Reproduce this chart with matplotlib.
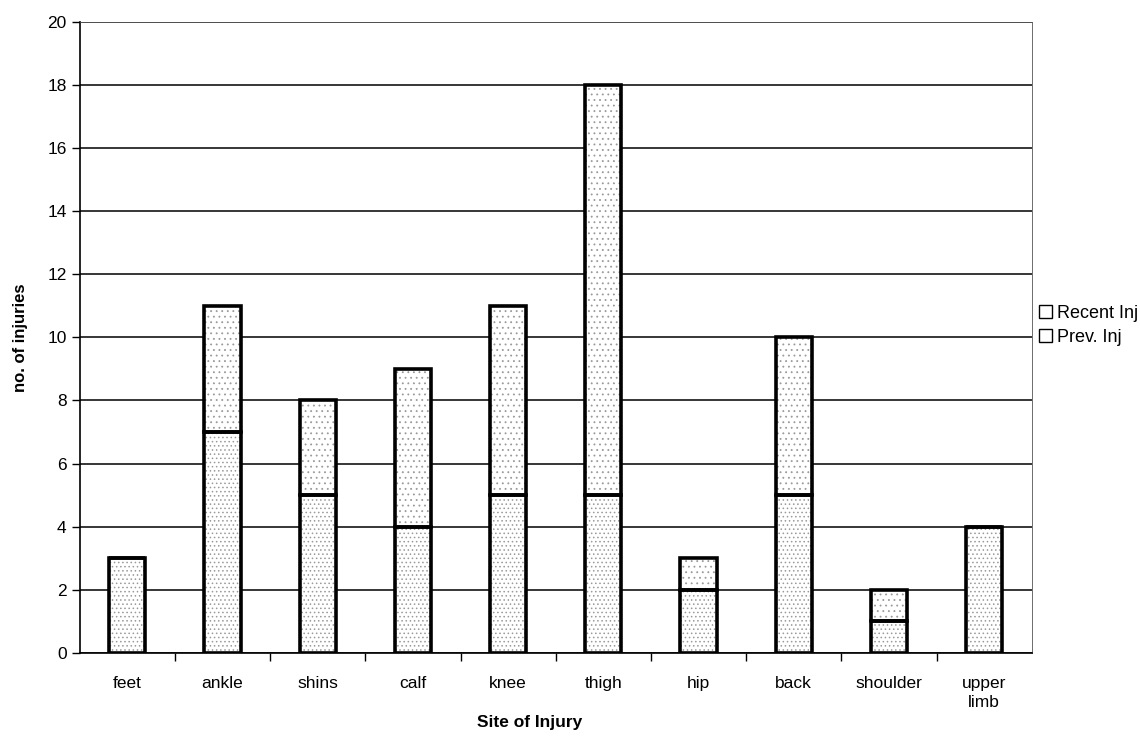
import matplotlib
matplotlib.use('Agg')
import matplotlib.pyplot as plt
from matplotlib.patches import Patch

plt.rcParams['font.family'] = ['Liberation Sans', 'DejaVu Sans']
plt.rcParams['hatch.linewidth'] = 0.6

sites = ['feet', 'ankle', 'shins', 'calf', 'knee', 'thigh', 'hip', 'back',
         'shoulder', 'upper\nlimb']
prev_inj = [3, 7, 5, 4, 5, 5, 2, 5, 1, 4]
recent_inj = [0, 4, 3, 5, 6, 13, 1, 5, 1, 0]

bar_width = 0.38
stipple = '#9a9a9a'

fig = plt.figure(figsize=(11.4, 7.53), dpi=100)
ax = fig.add_axes([0.070, 0.133, 0.835, 0.838])

x = range(len(sites))
# stippled fill first, then a plain outline on top so the edges stay black
ax.bar(x, prev_inj, width=bar_width, color='white', edgecolor=stipple,
       hatch='....', linewidth=0, zorder=3)
ax.bar(x, recent_inj, bottom=prev_inj, width=bar_width, color='white',
       edgecolor=stipple, hatch='...', linewidth=0, zorder=3)
for vals, base in [(prev_inj, None), (recent_inj, prev_inj)]:
    ax.bar(x, vals, bottom=base, width=bar_width, fill=False,
           edgecolor='black', linewidth=2.6, zorder=4)

ax.set_xlim(-0.5, len(sites) - 0.5)
ax.set_ylim(0, 20)
ax.set_yticks(range(0, 21, 2))
ax.yaxis.grid(True, color='black', linewidth=1.1, zorder=0)
ax.set_axisbelow(True)

# category labels centred, tick marks on the category boundaries
ax.set_xticks(list(x))
ax.set_xticklabels(sites, fontsize=12.5, linespacing=1.3)
ax.tick_params(axis='x', length=0, pad=17)
ax.set_xticks([i + 0.5 for i in range(len(sites) - 1)], minor=True)
ax.tick_params(axis='x', which='minor', length=6, width=1, direction='out')
ax.tick_params(axis='y', labelsize=12.5, length=6, width=1, direction='out')

for side in ['top', 'right']:
    ax.spines[side].set_linewidth(0.6)
    ax.spines[side].set_color('#555555')
for side in ['left', 'bottom']:
    ax.spines[side].set_linewidth(1.2)

ax.set_xlabel('Site of Injury', fontsize=12.5, fontweight='bold')
ax.xaxis.set_label_coords(0.473, -0.098)
ax.set_ylabel('no. of injuries', fontsize=12, fontweight='bold', labelpad=14)

handles = [Patch(facecolor='white', edgecolor='black', label='Recent Inj'),
           Patch(facecolor='white', edgecolor='black', label='Prev. Inj')]
fig.legend(handles=handles, loc='upper left', bbox_to_anchor=(0.905, 0.605),
           frameon=False, fontsize=13, handlelength=0.7, handleheight=0.7,
           handletextpad=0.3, labelspacing=0.4, borderaxespad=0)

fig.savefig('out.png', dpi=100)
